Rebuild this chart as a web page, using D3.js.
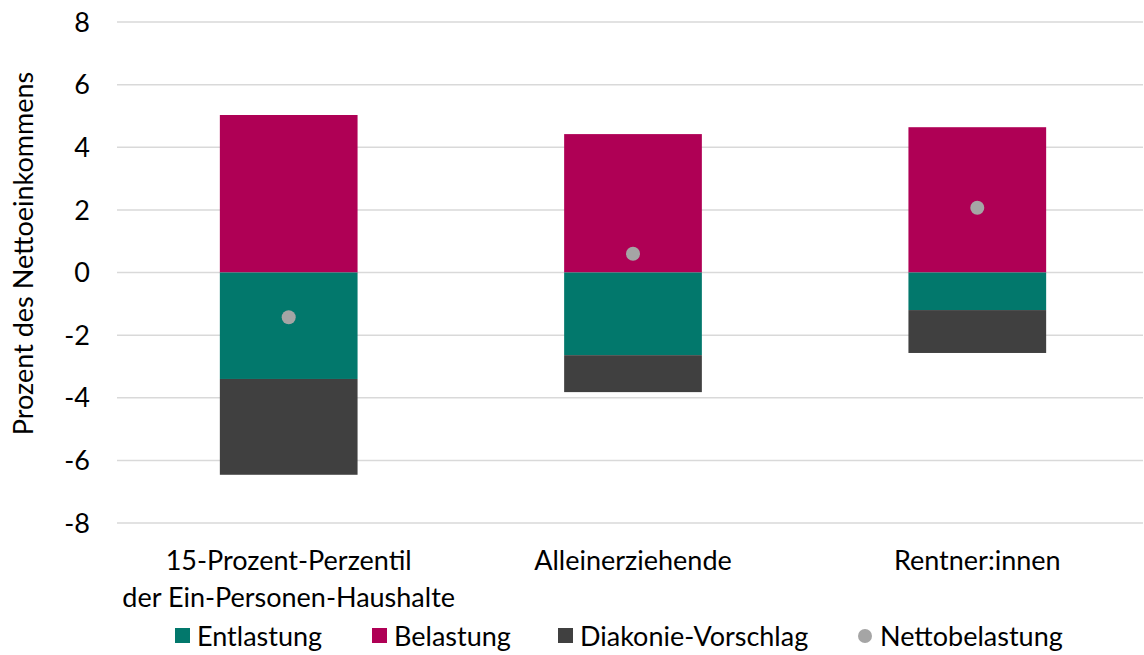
<!DOCTYPE html>
<html>
<head>
<meta charset="utf-8">
<script src="https://cdn.jsdelivr.net/npm/d3@7"></script>
<style>
  body { margin: 0; background: #fff; }
  text { font-family: Lato, "Open Sans", sans-serif; fill: #000; }
</style>
</head>
<body>
<div id="chart"></div>
<script>
const categories = ["15-Prozent-Perzentil\nder Ein-Personen-Haushalte", "Alleinerziehende", "Rentner:innen"];
const belastung = [5.03, 4.42, 4.64];
const entlastung = [-3.40, -2.64, -1.20];
const diakonie = [-3.06, -1.18, -1.37];
const netto = [-1.43, 0.60, 2.07];
const yTicks = [-8, -6, -4, -2, 0, 2, 4, 6, 8];

const colors = {
    entlastung: "#02786c",
    belastung: "#af0055",
    diakonie: "#404040",
    netto: "#a5a5a5"
};

const W = 1144, H = 655;
const margin = {top: 22, right: 1, bottom: 132, left: 117};
const width = W - margin.left - margin.right,
      height = H - margin.top - margin.bottom;
const fs = "27px";

const svg = d3.select("#chart")
    .append("svg")
    .attr("width", W)
    .attr("height", H)
    .append("g")
    .attr("transform", `translate(${margin.left}, ${margin.top})`);

let x = d3.scaleBand()
    .domain(categories)
    .range([3, width + 3])
    .paddingInner(0.6)
    .paddingOuter(0.29);

let y = d3.scaleLinear()
    .domain([-8, 8])
    .range([height, 0]);

// gridlines
svg.append("g")
    .selectAll("line")
    .data(yTicks)
    .enter()
    .append("line")
        .attr("x1", 0)
        .attr("x2", width)
        .attr("y1", d => y(d))
        .attr("y2", d => y(d))
        .style("stroke", "#d9d9d9")
        .style("stroke-width", 1.5);

// y tick labels
svg.append("g")
    .selectAll("text")
    .data(yTicks)
    .enter()
    .append("text")
        .attr("x", -27)
        .attr("y", d => y(d))
        .attr("dy", "0.36em")
        .attr("text-anchor", "end")
        .style("font-size", fs)
        .text(d => d);

// y axis title
svg.append("text")
    .attr("transform", `translate(${33 - margin.left}, ${253.5 - margin.top}) rotate(-90)`)
    .attr("text-anchor", "middle")
    .style("font-size", fs)
    .text("Prozent des Nettoeinkommens");

// stacked segments: positive up from 0, negatives down from 0
let segs = [];
categories.forEach(function(c, i) {
    segs.push({cat: c, y0: 0, y1: belastung[i], col: colors.belastung});
    segs.push({cat: c, y0: 0, y1: entlastung[i], col: colors.entlastung});
    segs.push({cat: c, y0: entlastung[i], y1: entlastung[i] + diakonie[i], col: colors.diakonie});
});

svg.append("g")
    .selectAll("rect")
    .data(segs)
    .enter()
    .append("rect")
        .attr("x", d => x(d.cat))
        .attr("width", x.bandwidth())
        .attr("y", d => y(Math.max(d.y0, d.y1)))
        .attr("height", d => Math.abs(y(d.y0) - y(d.y1)))
        .style("fill", d => d.col);

// net points
svg.append("g")
    .selectAll("circle")
    .data(netto)
    .enter()
    .append("circle")
        .attr("cx", (d, i) => x(categories[i]) + x.bandwidth() / 2)
        .attr("cy", d => y(d))
        .attr("r", 7)
        .style("fill", colors.netto);

// category labels
categories.forEach(function(c) {
    let t = svg.append("text")
        .attr("x", x(c) + x.bandwidth() / 2)
        .attr("y", height + 47)
        .attr("text-anchor", "middle")
        .style("font-size", fs);
    c.split("\n").forEach(function(line, j) {
        t.append("tspan")
            .attr("x", x(c) + x.bandwidth() / 2)
            .attr("dy", j === 0 ? 0 : 37)
            .text(line);
    });
});

// legend
const legendItems = [
    {name: "Entlastung", col: colors.entlastung, type: "rect", x: 175},
    {name: "Belastung", col: colors.belastung, type: "rect", x: 372},
    {name: "Diakonie-Vorschlag", col: colors.diakonie, type: "rect", x: 558},
    {name: "Nettobelastung", col: colors.netto, type: "circle", x: 858}
];
const legendY = 636;
let lg = d3.select("svg").append("g");
legendItems.forEach(function(d) {
    if (d.type === "rect") {
        lg.append("rect")
            .attr("x", d.x).attr("y", legendY - 8)
            .attr("width", 15).attr("height", 15)
            .style("fill", d.col);
    } else {
        lg.append("circle")
            .attr("cx", d.x + 7).attr("cy", legendY)
            .attr("r", 7)
            .style("fill", d.col);
    }
    lg.append("text")
        .attr("x", d.x + 22)
        .attr("y", legendY)
        .attr("dy", "0.36em")
        .style("font-size", fs)
        .text(d.name);
});
</script>
</body>
</html>
